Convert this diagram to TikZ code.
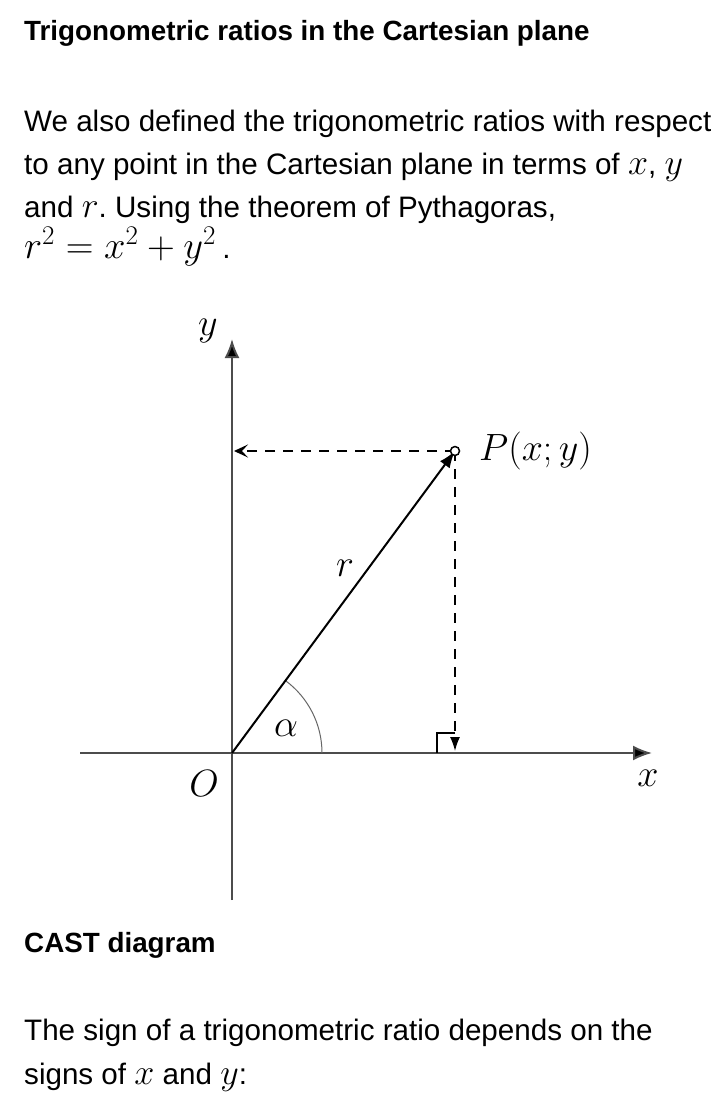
\RequirePackage{fix-cm}
\documentclass[tikz,border=0pt]{standalone}
\usepackage{fontspec}
\setmainfont{Liberation Sans}
\usetikzlibrary{arrows.meta}
\frenchspacing
\newcommand\mth[1]{{\fontsize{36}{40}\selectfont$#1$}}
\newcommand\mthb[1]{{\fontsize{38.5}{42}\selectfont$#1$}}
\begin{document}
\begin{tikzpicture}[x=1pt,y=-1pt,
  txt/.style={anchor=base west,inner sep=0pt,font=\fontsize{29.6}{34}\selectfont},
  hd/.style={anchor=base west,inner sep=0pt,font=\fontsize{27.8}{32}\selectfont\bfseries},
  lbl/.style={inner sep=0pt,font=\fontsize{38}{44}\selectfont},
  axis/.style={draw=black!70,line width=2pt,-{Latex[length=19pt,width=15pt,fill=black]}},
  dsh/.style={draw=black,line width=1.5pt,dash pattern=on 10pt off 8pt}]
\useasboundingbox (0,0) rectangle (720,1114);
\fill[white] (0,0) rectangle (720,1114);
% text
\node[hd] (t1) at (24,40) {Trigonometric ratios in the Cartesian plane};
\node[txt] (p1) at (24,131) {We also defined the trigonometric ratios with respect};
\node[txt] (p2) at (24,174) {to any point in the Cartesian plane in terms of \mth{x}, \mth{y}};
\node[txt] (p3) at (24,217) {and \mth{r}. Using the theorem of Pythagoras,};
\node[txt] (p4) at (24,258) {\mthb{r^2=x^2+y^2\,}.};
\node[hd] (t2) at (24,952) {CAST diagram};
\node[txt] (p5) at (24,1040) {The sign of a trigonometric ratio depends on the};
\node[txt] (p6) at (24,1084) {signs of \mth{x} and \mth{y}:};
% diagram
\coordinate (O) at (232,753);
\coordinate (xl) at (80,753);
\coordinate (xr) at (652,753);
\coordinate (yt) at (232,339);
\coordinate (yb) at (232,900);
\coordinate (P) at (455,451);
\coordinate (Py) at (234,451);
\coordinate (Px) at (455,751);
\draw[axis] (xl) -- (xr);
\draw[axis] (yb) -- (yt);
\draw[black!60,line width=1pt] (322,753) arc[start angle=0,end angle=-53.6,radius=90];
\draw[black,line width=2pt,-{Latex[length=17pt,width=12pt]}] (O) -- (P);
\draw[dsh,-{Stealth[length=14pt,width=13pt,inset=6pt]}] (P) -- (Py);
\draw[dsh,-{Latex[length=14pt,width=10pt]}] (P) -- (Px);
\draw[black,line width=1.6pt] (455,733) -- (437,733) -- (437,753);
\draw[black,line width=1.5pt,fill=white] (P) circle (4.5);
\node[lbl] (ylab) at (208,331) {$y$};
\node[lbl] (xlab) at (648,778) {$x$};
\node[lbl] (olab) at (204,784) {$O$};
\node[lbl,anchor=west] (plab) at (479,451) {$P(x;y)$};
\node[lbl] (rlab) at (345,568) {$r$};
\node[lbl] (alab) at (286,728) {$\alpha$};
\end{tikzpicture}
\end{document}
